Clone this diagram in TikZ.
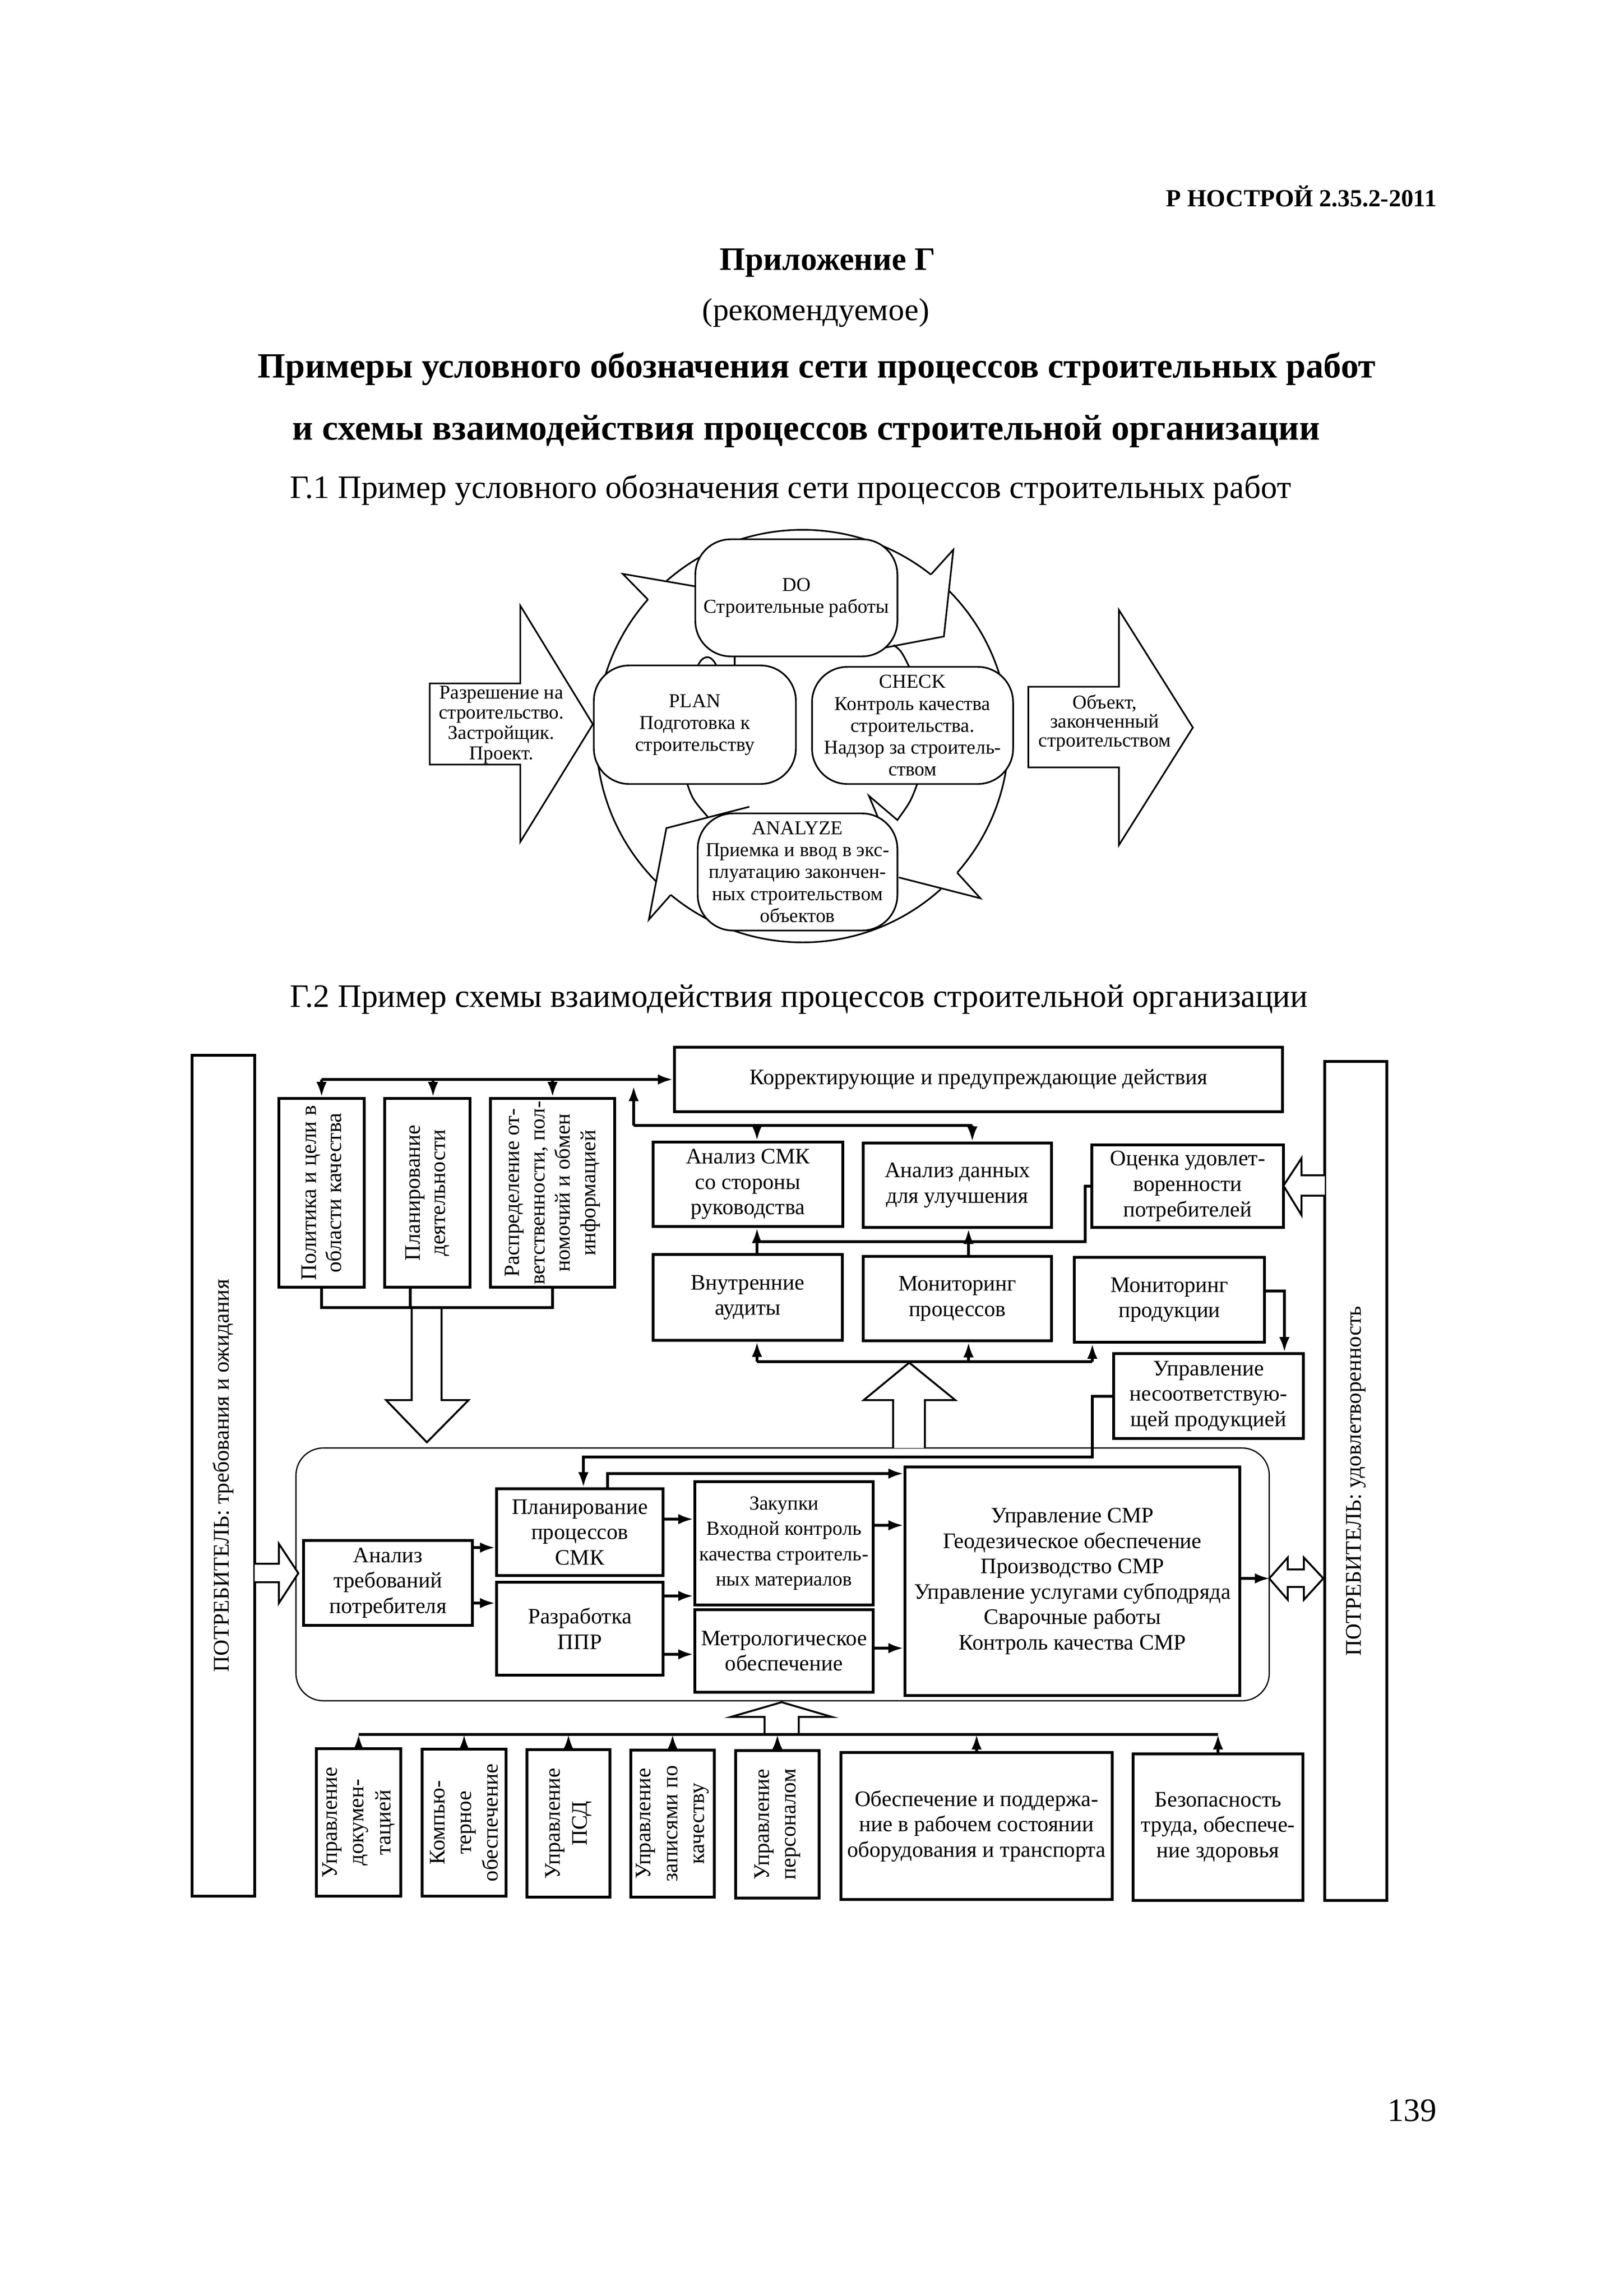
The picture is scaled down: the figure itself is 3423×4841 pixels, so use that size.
\documentclass[tikz,border=0pt]{standalone}
\usepackage{fontspec}
\setmainfont{Liberation Serif}
\usetikzlibrary{arrows.meta}
\newcommand\fntA{\fontsize{8.1}{9.3}\selectfont}
\newcommand\fntB{\fontsize{7.2}{8}\selectfont}
\newcommand\fntR{\fontsize{8.1}{9.8}\selectfont}
\newcommand\bx[7]{\node[#6,minimum width={(#4-#2)*0.1738pt},minimum height={(#5-#3)*0.1738pt}] (#1) at ({(#2+#4)/2},{(#3+#5)/2}) {#7};}
\newcommand\rbx[7]{\node[#6,rotate=90,minimum width={(#5-#3)*0.1738pt},minimum height={(#4-#2)*0.1738pt}] (#1) at ({(#2+#4)/2},{(#3+#5)/2}) {#7};}
\begin{document}
\begin{tikzpicture}[x=0.1738pt,y=-0.1738pt,
  lbox/.style={draw,line width=1.1pt,fill=white,inner sep=1pt,align=center,font=\fntA},
  ubox/.style={draw,line width=0.6pt,fill=white,rounded corners=13pt,inner sep=1pt,align=center,font=\fntB},
  con/.style={line width=1pt},
  arr/.style={line width=1pt,-{Latex[length=5.5pt,width=3.8pt]}},
  blk/.style={line width=0.7pt,fill=white},
  thinl/.style={line width=0.6pt},
  txt/.style={inner sep=0pt}]
\fill[white] (0,0) rectangle (3423,4841);
\useasboundingbox (0,0) rectangle (3423,4841);

% ---------- page texts ----------
\node[txt,anchor=east,font=\bfseries\fontsize{9}{11}\selectfont] (hdr) at (3030,414) {Р НОСТРОЙ 2.35.2-2011};
\node[txt,font=\bfseries\fontsize{12}{14}\selectfont] (app) at (1745,554) {Приложение Г};
\node[txt,font=\fontsize{11.6}{14}\selectfont] (rec) at (1720,660) {(рекомендуемое)};
\node[txt,font=\bfseries\fontsize{13}{15}\selectfont] (t1) at (1722,778) {Примеры условного обозначения сети процессов строительных работ};
\node[txt,font=\bfseries\fontsize{13.2}{15}\selectfont] (t2) at (1700,909) {и схемы взаимодействия процессов строительной организации};
\node[txt,anchor=west,font=\fontsize{12}{14}\selectfont] (g1) at (610,1033) {Г.1 Пример условного обозначения сети процессов строительных работ};
\node[txt,anchor=west,font=\fontsize{12}{14}\selectfont] (g2) at (610,2107) {Г.2 Пример схемы взаимодействия процессов строительной организации};
\node[txt,anchor=east,font=\fontsize{12}{14}\selectfont] (pg) at (3030,4450) {139};

% ---------- upper diagram: cycle ----------
\coordinate (C) at (1692,1552);
\draw[thinl] (C) ++(135:435) arc[start angle=135,end angle=221.5,radius=435];
\draw[thinl] (C) ++(228.8:435) arc[start angle=228.8,end angle=308.5,radius=435];
\draw[thinl] (C) ++(315.3:435) arc[start angle=315.3,end angle=401.4,radius=435];
\draw[thinl] (C) ++(47.9:435) arc[start angle=47.9,end angle=129.7,radius=435];
\draw[thinl] (1366,1264) -- (1313,1210) -- (1470,1237);
\draw[thinl] (1963,1211) -- (2010,1159) -- (1990,1342) -- (1858,1367);
\draw[thinl] (2018,1840) -- (2067,1894) -- (1895,1850);
\draw[thinl] (1580,1701) -- (1405,1746) -- (1368,1939) -- (1414,1887);
\draw[thinl] (1471,1405) .. controls (1478,1385) and (1498,1374) .. (1511,1405);
\draw[thinl] (1549,1380) -- (1549,1405);
\draw[thinl] (1884,1360) .. controls (1900,1372) .. (1918,1408);
\draw[thinl] (1935,1650) .. controls (1920,1690) .. (1892,1729) -- (1832,1678) -- (1858,1740);
\draw[thinl] (1448,1650) .. controls (1460,1685) .. (1492,1722);

\bx{DO}{1466}{1137}{1892}{1384}{ubox}{DO\\Строительные работы}
\bx{PLAN}{1252}{1403}{1678}{1653}{ubox}{PLAN\\Подготовка к\\строительству}
\bx{CHECK}{1712}{1406}{2136}{1653}{ubox}{CHECK\\Контроль качества\\строительства.\\Надзор за строитель-\\ством}
\bx{AN}{1471}{1715}{1892}{1962}{ubox}{ANALYZE\\Приемка и ввод в экс-\\плуатацию закончен-\\ных строительством\\объектов}

\draw[thinl,fill=white] (906,1441) -- (1097,1441) -- (1097,1277) -- (1250,1527) -- (1097,1775) -- (1097,1612) -- (906,1612) -- cycle;
\node[txt,font=\fontsize{7.2}{7.4}\selectfont,align=center] (inL) at (1057,1528) {Разрешение на\\строительство.\\Застройщик.\\Проект.};
\draw[thinl,fill=white] (2168,1448) -- (2359,1448) -- (2359,1286) -- (2515,1534) -- (2359,1782) -- (2359,1618) -- (2168,1618) -- cycle;
\node[txt,font=\fontsize{7.2}{6.9}\selectfont,align=center] (outR) at (2329,1524) {Объект,\\законченный\\строительством};

% ---------- lower diagram ----------
\bx{cont}{624}{3053}{2676}{3586}{draw,line width=0.45pt,rounded corners=10pt}{}
\rbx{L}{405}{2225}{537}{3998}{lbox,font=\fontsize{8.2}{9.5}\selectfont}{ПОТРЕБИТЕЛЬ: требования и ожидания}
\rbx{R}{2793}{2238}{2924}{4007}{lbox,font=\fontsize{8.2}{9.5}\selectfont}{ПОТРЕБИТЕЛЬ: удовлетворенность}
\rbx{b1}{588}{2316}{768}{2714}{lbox}{Политика и цели в\\области качества}
\rbx{b2}{811}{2316}{991}{2714}{lbox}{Планирование\\деятельности}
\rbx{b3}{1034}{2316}{1296}{2714}{lbox,inner sep=0pt,font=\fontsize{7.9}{9.3}\selectfont}{Распределение от-\\ветственности, пол-\\номочий и обмен\\информацией}
\bx{kpd}{1422}{2208}{2704}{2344}{lbox}{Корректирующие и предупреждающие действия}
\bx{asmk}{1377}{2408}{1777}{2586}{lbox}{Анализ СМК\\со стороны\\руководства}
\bx{adan}{1820}{2410}{2217}{2588}{lbox}{Анализ данных\\для улучшения}
\bx{ocen}{2302}{2414}{2706}{2588}{lbox}{Оценка удовлет-\\воренности\\потребителей}
\bx{vaud}{1377}{2645}{1776}{2826}{lbox}{Внутренние\\аудиты}
\bx{mpr}{1820}{2649}{2217}{2827}{lbox}{Мониторинг\\процессов}
\bx{mprod}{2265}{2651}{2666}{2830}{lbox}{Мониторинг\\продукции}
\bx{unp}{2348}{2854}{2748}{3033}{lbox}{Управление\\несоответствую-\\щей продукцией}
\bx{atp}{640}{3248}{996}{3427}{lbox}{Анализ\\требований\\потребителя}
\bx{ppr}{1047}{3139}{1398}{3322}{lbox}{Планирование\\процессов\\СМК}
\bx{rppr}{1047}{3336}{1398}{3532}{lbox}{Разработка\\ППР}
\bx{zak}{1465}{3124}{1841}{3384}{lbox,font=\fontsize{7.3}{9.3}\selectfont}{Закупки\\Входной контроль\\качества строитель-\\ных материалов}
\bx{metr}{1465}{3394}{1841}{3568}{lbox}{Метрологическое\\обеспечение}
\bx{smr}{1908}{3093}{2614}{3575}{lbox}{Управление СМР\\Геодезическое обеспечение\\Производство СМР\\Управление услугами субподряда\\Сварочные работы\\Контроль качества СМР}
\rbx{B1}{667}{3687}{845}{3998}{lbox,font=\fntR}{Управление\\докумен-\\тацией}
\rbx{B2}{890}{3688}{1067}{3998}{lbox,font=\fntR}{Компью-\\терное\\обеспечение}
\rbx{B3}{1111}{3689}{1286}{4000}{lbox,font=\fntR}{Управление\\ПСД}
\rbx{B4}{1330}{3690}{1506}{4000}{lbox,font=\fntR}{Управление\\записями по\\качеству}
\rbx{B5}{1551}{3691}{1727}{4002}{lbox,font=\fntR}{Управление\\персоналом}
\bx{B6}{1773}{3695}{2345}{4005}{lbox}{Обеспечение и поддержа-\\ние в рабочем состоянии\\оборудования и транспорта}
\bx{B7}{2389}{3698}{2747}{4007}{lbox}{Безопасность\\труда, обеспече-\\ние здоровья}

% block arrows
\draw[blk] (868,2757) -- (868,2952) -- (814,2952) -- (900,3041) -- (988,2952) -- (931,2952) -- (931,2757);
\draw[blk] (1883,3053) -- (1883,2952) -- (1821,2952) -- (1917,2873) -- (2014,2952) -- (1950,2952) -- (1950,3053);
\draw[blk] (1612,3657) -- (1612,3620) -- (1541,3620) -- (1648,3589) -- (1754,3620) -- (1684,3620) -- (1684,3657);
\draw[blk] (537,3297) -- (588,3297) -- (588,3255) -- (629,3317) -- (588,3380) -- (588,3336) -- (537,3336);
\draw[blk] (2793,2478) -- (2744,2478) -- (2744,2442) -- (2706,2500) -- (2744,2562) -- (2744,2521) -- (2793,2521);
\draw[blk] (2676,3328) -- (2715,3284) -- (2715,3309) -- (2749,3309) -- (2749,3284) -- (2790,3328) -- (2749,3373) -- (2749,3346) -- (2715,3346) -- (2715,3373) -- cycle;

% connectors: top bus
\coordinate (tb2) at (913,2276);
\draw[arr] (b1.east |- kpd.west) -- (kpd.west);
\draw[arr] (b1.east |- kpd.west) -- (b1.east);
\draw[arr] (tb2) -- (tb2 |- b2.east);
\draw[arr] (b3.east |- kpd.west) -- (b3.east);
% collector below b1..b3
\coordinate (c1) at (865,2757);
\draw[con] (b1.west) |- (b3.west |- c1) -- (b3.west);
\draw[con] (c1 |- b2.west) -- (c1);
% level-2 bus
\coordinate (m2L) at (1336,2373);
\coordinate (m2a) at (1596,2373);
\coordinate (m2R) at (2050,2373);
\draw[con] (m2L) -- (m2R);
\draw[arr] (m2L) -- ++(0,-83);
\draw[arr] (m2a) -- (m2a |- asmk.north);
\draw[arr] (m2R) -- (m2R |- adan.north);
% feedback from Оценка
\coordinate (oc0) at (1596,2618);
\coordinate (oc2) at (2042,2618);
\coordinate (oc1) at (2288,2618);
\draw[con] (ocen.west) -| (oc1) -- (oc0);
\draw[arr] (oc0) -- (oc0 |- asmk.south);
\draw[arr] (oc2) -- (oc2 |- adan.south);
\draw[con] (oc0) -- (oc0 |- vaud.north);
\draw[con] (oc2) -- (oc2 |- mpr.north);
% level-3 bus
\coordinate (m3L) at (1596,2871);
\coordinate (m3b) at (2042,2871);
\coordinate (m3R) at (2303,2871);
\draw[con] (m3L) -- (m3R);
\draw[arr] (m3L) -- (m3L |- vaud.south);
\draw[arr] (m3b) -- (m3b |- mpr.south);
\draw[arr] (m3R) -- (m3R |- mprod.south);
% Мониторинг продукции -> Управление несоответствующей
\coordinate (mp1) at (2708,2722);
\draw[arr] (mp1 -| mprod.east) -- (mp1) -- (mp1 |- unp.north);
% Управление несоотв. -> Планирование процессов
\coordinate (u1) at (2303,2944);
\coordinate (u2) at (2303,3072);
\coordinate (u3) at (1230,3072);
\draw[arr] (u1 -| unp.west) -- (u1) -- (u2) -- (u3) -- (u3 |- ppr.north);
% Планирование -> СМР
\coordinate (p1) at (1281,3107);
\draw[arr] (p1 |- ppr.north) -- (p1) -- (p1 -| smr.west);
% inner arrows
\coordinate (a1) at (1020,3263);
\coordinate (a2) at (1020,3380);
\draw[arr] (a1 -| atp.east) -- (a1 -| ppr.west);
\draw[arr] (a2 -| atp.east) -- (a2 -| rppr.west);
\coordinate (z1) at (1430,3203);
\coordinate (z2) at (1430,3365);
\coordinate (z3) at (1430,3488);
\draw[arr] (z1 -| ppr.east) -- (z1 -| zak.west);
\draw[arr] (z2 -| rppr.east) -- (z2 -| zak.west);
\draw[arr] (z3 -| rppr.east) -- (z3 -| metr.west);
\coordinate (s1) at (1870,3216);
\coordinate (s2) at (1870,3475);
\draw[arr] (s1 -| zak.east) -- (s1 -| smr.west);
\draw[arr] (s2 -| metr.east) -- (s2 -| smr.west);
\coordinate (s3) at (2640,3328);
\draw[arr] (s3 -| smr.east) -- (s3 -| cont.east);
% bottom bus
\coordinate (bb) at (1500,3657);
\draw[con] (B1.east |- bb) -- (B7.north |- bb);
\foreach \nn in {B1,B2,B3,B4,B5} \draw[arr] (\nn.east) -- (\nn.east |- bb);
\foreach \nn in {B6,B7} \draw[arr] (\nn.north) -- (\nn.north |- bb);
\end{tikzpicture}
\end{document}
